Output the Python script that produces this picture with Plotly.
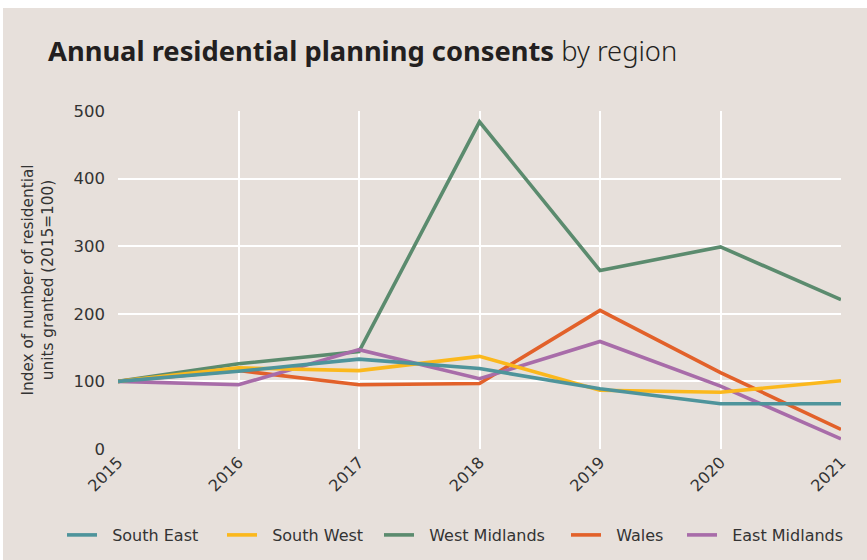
import plotly.graph_objects as go

years = ["2015", "2016", "2017", "2018", "2019", "2020", "2021"]
south_east = [100, 115, 133, 119, 89, 67, 67]
south_west = [100, 120, 116, 137, 87, 84, 101]
west_midlands = [100, 126, 144, 484, 264, 299, 221]
wales = [100, 116, 95, 97, 205, 113, 29]
east_midlands = [100, 95, 147, 104, 159, 93, 15]
y_ticks = [0, 100, 200, 300, 400, 500]

series = [
    ("South East", south_east, "#4E949B"),
    ("South West", south_west, "#FBB81C"),
    ("West Midlands", west_midlands, "#5B8B6E"),
    ("Wales", wales, "#E2612A"),
    ("East Midlands", east_midlands, "#A86CA9"),
]
draw_order = ["West Midlands", "Wales", "East Midlands", "South West", "South East"]
legend_start_px = [62, 222, 379, 566, 682]

FONT = "DejaVu Sans"
TXT = "#333333"
BG = "#E7E0DB"

W, H = 867, 560
L, R, T, B = 118, 26, 111, 111
pw, ph = W - L - R, H - T - B

def px_to_paper_x(px):
    return (px - L) / pw

def px_to_paper_y(py):
    return (H - B - py) / ph

legend_ids = {}
for i, s in enumerate(series):
    legend_ids[s[0]] = "legend" if i == 0 else "legend%d" % (i + 1)

fig = go.Figure()
lookup = {s[0]: s for s in series}
for name in draw_order:
    n, vals, col = lookup[name]
    fig.add_trace(go.Scatter(
        x=years, y=vals, name="\u00a0\u00a0" + n, mode="lines",
        line=dict(color=col, width=3.6),
        legend=legend_ids[n],
    ))

fig.add_shape(type="rect", xref="paper", yref="paper",
              x0=px_to_paper_x(3), x1=px_to_paper_x(W + 5),
              y0=px_to_paper_y(H + 5), y1=px_to_paper_y(8),
              fillcolor=BG, line=dict(width=0), layer="below")

fig.add_annotation(
    xref="paper", yref="paper",
    x=px_to_paper_x(46), y=px_to_paper_y(50),
    xanchor="left", yanchor="middle", showarrow=False,
    text="<b>Annual residential planning consents</b> <span style='font-weight:300'>by region</span>",
    font=dict(family="Noto Sans", size=27.3, color="#231F20"),
)

legend_layout = {}
for i, s in enumerate(series):
    key = legend_ids[s[0]]
    legend_layout[key] = dict(
        orientation="h", x=legend_start_px[i] / W, xref="container", xanchor="left",
        y=(H - 535) / H, yref="container", yanchor="middle",
        font=dict(family=FONT, size=16, color=TXT),
        bgcolor="rgba(0,0,0,0)", itemwidth=30,
    )

fig.update_layout(
    width=W, height=H,
    margin=dict(l=L, r=R, t=T, b=B, autoexpand=False),
    paper_bgcolor="white", plot_bgcolor="rgba(0,0,0,0)",
    font=dict(family=FONT, color=TXT, size=15),
    showlegend=True,
    xaxis=dict(
        type="category", tickangle=-45, showgrid=True, gridcolor="white",
        gridwidth=1.5, zeroline=False, showline=False, ticks="",
        tickfont=dict(family=FONT, size=16, color=TXT),
        range=[0, 6],
    ),
    yaxis=dict(
        range=[0, 500], tickvals=y_ticks, showgrid=True, gridcolor="white",
        gridwidth=1.5, zeroline=False, showline=False, ticks="",
        tickfont=dict(family=FONT, size=16.5, color=TXT),
        ticklabelstandoff=12,
        title=dict(text="Index of number of residential<br>units granted (2015=100)",
                   font=dict(family=FONT, size=15.3, color=TXT), standoff=16),
    ),
    **legend_layout,
)

fig.write_html("out.html")
